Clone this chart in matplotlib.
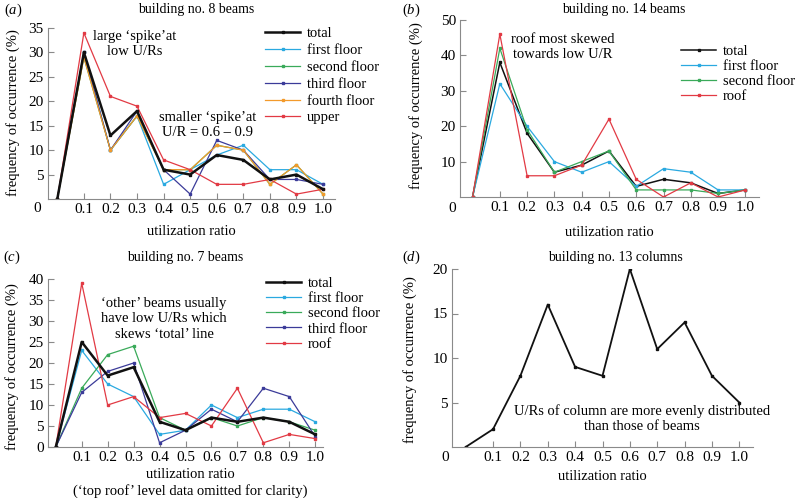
#!/usr/bin/env python3

import matplotlib
matplotlib.use('Agg')
import matplotlib.pyplot as plt

plt.rcParams['font.family'] = ['Liberation Serif', 'DejaVu Serif']
plt.rcParams['mathtext.fontset'] = 'custom'
plt.rcParams['mathtext.rm'] = 'Liberation Serif'
plt.rcParams['mathtext.it'] = 'Liberation Serif:italic'

# utilization ratio bins
ur = [0.0, 0.1, 0.2, 0.3, 0.4, 0.5, 0.6, 0.7, 0.8, 0.9, 1.0]
xticks = [0.1, 0.2, 0.3, 0.4, 0.5, 0.6, 0.7, 0.8, 0.9, 1.0]
xticklabels = ['0.1', '0.2', '0.3', '0.4', '0.5', '0.6', '0.7', '0.8', '0.9', '1.0']

# (a) building no. 8 beams
a_total  = [0, 30, 13, 18, 6, 5, 9, 8, 4, 5, 2]
a_first  = [0, 30, 10, 17, 3, 6, 9, 11, 6, 6, 3]
a_second = [0, 29, 10, 17, 6, 6, 11, 10, 3, 7, 1]
a_third  = [0, 30, 10, 18, 6, 1, 12, 10, 4, 4, 3]
a_fourth = [0, 29, 10, 17, 6, 6, 11, 10, 3, 7, 1]
a_upper  = [0, 34, 21, 19, 8, 6, 3, 3, 4, 1, 2]

# (b) building no. 14 beams
b_total  = [0, 38, 18, 7, 9, 13, 3, 5, 4, 1, 2]
b_first  = [0, 32, 20, 10, 7, 10, 3, 8, 7, 2, 2]
b_second = [0, 42, 19, 7, 10, 13, 2, 2, 2, 1, 2]
b_roof   = [0, 46, 6, 6, 9, 22, 5, 0, 4, 0, 2]

# (c) building no. 7 beams
c_total  = [0, 25, 17, 19, 6, 4, 7, 6, 7, 6, 3]
c_first  = [0, 23, 15, 12, 3, 4, 10, 7, 9, 9, 6]
c_second = [0, 14, 22, 24, 7, 4, 7, 5, 7, 6, 4]
c_third  = [0, 13, 18, 20, 1, 4, 9, 6, 14, 12, 2.5]
c_roof   = [0, 39, 10, 12, 7, 8, 5, 14, 1, 3, 2]

# (d) building no. 13 columns
d_total = [0, 2, 8, 16, 9, 8, 20, 11, 14, 8, 5]

BLACK = '#111111'
CYAN = '#2aa9e0'
GREEN = '#3aaa5a'
NAVY = '#3b3b99'
ORANGE = '#f39a2b'
RED = '#e23a44'
SPINE = '#8a8a8a'

FS = 10.5
W, H = 798, 498


def fx(px):
    return px / W


def fy(py):
    return 1 - py / H


def make_ax(fig, left, right, top, bottom):
    ax = fig.add_axes([fx(left), fy(bottom), (right - left) / W, (bottom - top) / H])
    for s in ['top', 'right']:
        ax.spines[s].set_visible(False)
    for s in ['left', 'bottom']:
        ax.spines[s].set_color(SPINE)
        ax.spines[s].set_linewidth(0.8)
    ax.tick_params(direction='in', length=4, width=0.8, color=SPINE,
                   labelsize=11, pad=3)
    ax.set_xticks(xticks)
    ax.set_xticklabels(xticklabels)
    return ax


def series(ax, y, color, label, lw=0.9):
    return ax.plot(ur, y, color=color, lw=lw, marker='s', markersize=1.6,
                   label=label)[0]


def legend(ax, lines, x, y, spacing):
    ax.legend(lines, [ln.get_label() for ln in lines],
              loc='upper left', bbox_to_anchor=(fx(x), fy(y)),
              bbox_transform=ax.figure.transFigure, frameon=False,
              fontsize=FS, handlelength=2.4, handletextpad=0.45,
              labelspacing=spacing, borderpad=0, borderaxespad=0)


def main():
    fig = plt.figure(figsize=(W / 100, H / 100), dpi=100)

    # ---- (a)
    ax = make_ax(fig, 48, 335, 28, 199)
    ax.set_xlim(-0.035, 1.045)
    ax.set_ylim(0, 35)
    ax.set_yticks([5, 10, 15, 20, 25, 30, 35])
    l1 = series(ax, a_first, CYAN, 'first floor')
    l2 = series(ax, a_second, GREEN, 'second floor')
    l3 = series(ax, a_third, NAVY, 'third floor')
    l4 = series(ax, a_fourth, ORANGE, 'fourth floor')
    l5 = series(ax, a_upper, RED, 'upper')
    l0 = series(ax, a_total, BLACK, 'total', lw=1.8)
    legend(ax, [l0, l1, l2, l3, l4, l5], 265, 27, 0.25)
    ax.set_xlabel('utilization ratio', fontsize=FS)
    ax.xaxis.set_label_coords(0.5, -0.15)
    fig.text(fx(135), fy(44), 'large \u2018spike\u2019at\nlow U/Rs', ha='center',
             va='center', fontsize=FS, linespacing=1.2)
    fig.text(fx(208), fy(125), 'smaller \u2018spike\u2019at\nU/R = 0.6 \u2013 0.9',
             ha='center', va='center', fontsize=FS, linespacing=1.2)
    fig.text(fx(4), fy(10), r'($\it{a}$)', ha='left', va='center', fontsize=FS)
    fig.text(fx(196), fy(10), 'building no. 8 beams', ha='center', va='center',
             fontsize=10)
    fig.text(fx(37), fy(209), '0', ha='center', va='center', fontsize=11)
    fig.text(fx(13), fy(113), 'frequency of occurrence (%)', rotation=90,
             ha='center', va='center', fontsize=FS)

    # ---- (b)
    ax = make_ax(fig, 460, 759, 20, 197)
    ax.set_xlim(-0.046, 1.05)
    ax.set_ylim(0, 50)
    ax.set_yticks([10, 20, 30, 40, 50])
    l0 = series(ax, b_total, BLACK, 'total', lw=1.1)
    l1 = series(ax, b_first, CYAN, 'first floor')
    l2 = series(ax, b_second, GREEN, 'second floor')
    l3 = series(ax, b_roof, RED, 'roof')
    legend(ax, [l0, l1, l2, l3], 681, 45, 0.12)
    ax.set_xlabel('utilization ratio', fontsize=FS)
    ax.xaxis.set_label_coords(0.5, -0.165)
    fig.text(fx(563), fy(47), 'roof most skewed\ntowards low U/R', ha='center',
             va='center', fontsize=FS, linespacing=1.2)
    fig.text(fx(402), fy(10), r'($\it{b}$)', ha='left', va='center', fontsize=FS)
    fig.text(fx(624), fy(10), 'building no. 14 beams', ha='center', va='center',
             fontsize=10)
    fig.text(fx(452), fy(208), '0', ha='center', va='center', fontsize=11)
    fig.text(fx(416), fy(106), 'frequency of occurrence (%)', rotation=90,
             ha='center', va='center', fontsize=FS)

    # ---- (c)
    ax = make_ax(fig, 48, 323, 279, 447)
    ax.set_xlim(-0.03, 1.03)
    ax.set_ylim(0, 40)
    ax.set_yticks([0, 5, 10, 15, 20, 25, 30, 35, 40])
    l1 = series(ax, c_first, CYAN, 'first floor')
    l2 = series(ax, c_second, GREEN, 'second floor')
    l3 = series(ax, c_third, NAVY, 'third floor')
    l4 = series(ax, c_roof, RED, 'roof')
    l0 = series(ax, c_total, BLACK, 'total', lw=1.8)
    legend(ax, [l0, l1, l2, l3, l4], 266, 277, 0.13)
    fig.text(fx(164), fy(319), '\u2018other\u2019 beams usually\nhave low U/Rs which\n'
             'skews \u2018total\u2019 line', ha='center', va='center', fontsize=FS,
             linespacing=1.25)
    fig.text(fx(190), fy(483), 'utilization ratio\n(\u2018top roof\u2019 level data '
             'omitted for clarity)', ha='center', va='center', fontsize=FS,
             linespacing=1.25)
    fig.text(fx(3), fy(257), r'($\it{c}$)', ha='left', va='center', fontsize=FS)
    fig.text(fx(185), fy(257), 'building no. 7 beams', ha='center', va='center',
             fontsize=10)
    fig.text(fx(12), fy(367), 'frequency of occurrence (%)', rotation=90,
             ha='center', va='center', fontsize=FS)

    # ---- (d)
    ax = make_ax(fig, 452, 753, 269, 447)
    ax.set_xlim(-0.05, 1.05)
    ax.set_ylim(0, 20)
    ax.set_yticks([5, 10, 15, 20])
    series(ax, d_total, BLACK, 'total', lw=1.3)
    ax.set_xlabel('utilization ratio', fontsize=FS)
    ax.xaxis.set_label_coords(0.5, -0.13)
    fig.text(fx(642), fy(419), 'U/Rs of column are more evenly distributed\n'
             'than those of beams', ha='center', va='center', fontsize=FS,
             linespacing=1.2)
    fig.text(fx(402), fy(257), r'($\it{d}$)', ha='left', va='center', fontsize=FS)
    fig.text(fx(615), fy(257), 'building no. 13 columns', ha='center', va='center',
             fontsize=10)
    fig.text(fx(445), fy(457), '0', ha='center', va='center', fontsize=11)
    fig.text(fx(410), fy(360), 'frequency of occurrence (%)', rotation=90,
             ha='center', va='center', fontsize=FS)

    plt.savefig('out.png', dpi=100)


if __name__ == '__main__':
    main()
